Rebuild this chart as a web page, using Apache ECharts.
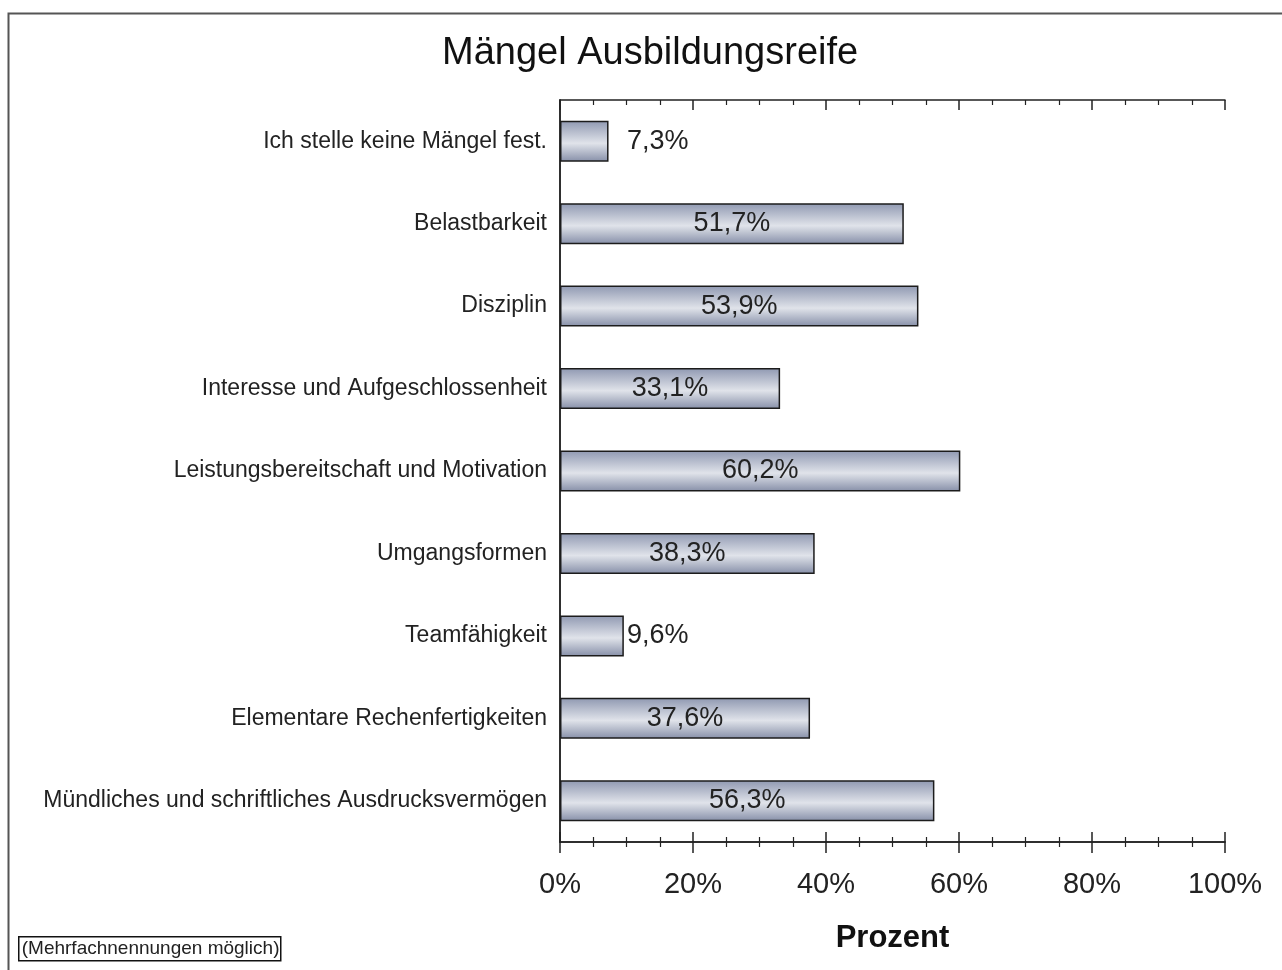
<!DOCTYPE html>
<html>
<head>
<meta charset="utf-8">
<script src="https://cdn.jsdelivr.net/npm/echarts@6/dist/echarts.min.js"></script>
<style>html,body{margin:0;padding:0;background:#fff}#c{width:1282px;height:970px}</style>
</head>
<body>
<div id="c"></div>
<script>
var titleText = 'Mängel Ausbildungsreife';
var categories = [
  'Ich stelle keine Mängel fest.',
  'Belastbarkeit',
  'Disziplin',
  'Interesse und Aufgeschlossenheit',
  'Leistungsbereitschaft und Motivation',
  'Umgangsformen',
  'Teamfähigkeit',
  'Elementare Rechenfertigkeiten',
  'Mündliches und schriftliches Ausdrucksvermögen'
];
var values = [7.3, 51.7, 53.9, 33.1, 60.2, 38.3, 9.6, 37.6, 56.3];
var xTicks = [0, 20, 40, 60, 80, 100];
var axisName = 'Prozent';
var noteText = '(Mehrfachnennungen möglich)';

var FONT = '"Liberation Sans", Arial, sans-serif';
var chart = echarts.init(document.getElementById('c'), null, {renderer: 'canvas'});

var barColor = new echarts.graphic.LinearGradient(0, 0, 0, 1, [
  {offset: 0, color: '#8f98b1'},
  {offset: 0.55, color: '#e0e3ea'},
  {offset: 1, color: '#868fa8'}
]);

var data = values.map(function (v) {
  var item = {value: v};
  if (v < 15) {
    item.label = {position: 'insideLeft', distance: 67};
  }
  return item;
});

function fmt(v) { return v.toFixed(1).replace('.', ',') + '%'; }

var xMin = xTicks[0], xMax = xTicks[xTicks.length - 1], xInt = xTicks[1] - xTicks[0];

var baseX = {
  type: 'value', min: xMin, max: xMax, interval: xInt,
  splitLine: {show: false},
  axisLine: {show: true, lineStyle: {color: '#222', width: 1.5}}
};

var option = {
  backgroundColor: '#fff',
  animation: false,
  title: {
    text: titleText, left: 442, top: 35, padding: 0,
    textStyle: {fontFamily: FONT, fontSize: 38, fontWeight: 'normal', color: '#111'}
  },
  grid: {left: 560, right: 57, top: 100, bottom: 128, containLabel: false},
  xAxis: [
    Object.assign({}, baseX, {
      position: 'bottom',
      axisTick: {show: true, inside: false, length: 11, lineStyle: {color: '#222', width: 1.5}},
      minorTick: {show: true, splitNumber: 4, length: 5, lineStyle: {color: '#222', width: 1.2}},
      axisLabel: {
        show: true, margin: 28, fontFamily: FONT, fontSize: 29, color: '#222',
        formatter: function (v) { return v + '%'; }
      },
      name: axisName, nameLocation: 'middle', nameGap: 81,
      nameTextStyle: {fontFamily: FONT, fontSize: 31, fontWeight: 'bold', color: '#111'}
    }),
    Object.assign({}, baseX, {
      position: 'bottom',
      axisTick: {show: true, inside: true, length: 10, lineStyle: {color: '#222', width: 1.5}},
      minorTick: {show: true, splitNumber: 4, length: 5, lineStyle: {color: '#222', width: 1.2}},
      axisLabel: {show: false}
    }),
    Object.assign({}, baseX, {
      position: 'top',
      axisTick: {show: true, inside: true, length: 10, lineStyle: {color: '#222', width: 1.5}},
      minorTick: {show: true, splitNumber: 4, length: 5, lineStyle: {color: '#222', width: 1.2}},
      axisLabel: {show: false}
    })
  ],
  yAxis: [
    {
      type: 'category', data: categories, inverse: true, position: 'left',
      axisLine: {show: true, lineStyle: {color: '#222', width: 1.5}},
      axisTick: {show: false},
      axisLabel: {margin: 13, fontFamily: FONT, fontSize: 23, color: '#222'},
      splitLine: {show: false}
    },
    {
      type: 'category', data: categories, inverse: true, position: 'right',
      axisLine: {show: true, lineStyle: {color: '#222', width: 1.5}},
      axisTick: {show: false}, axisLabel: {show: false}, splitLine: {show: false}
    }
  ],
  series: [{
    type: 'bar', xAxisIndex: 0, yAxisIndex: 0,
    data: data, barWidth: 41,
    itemStyle: {color: barColor, borderColor: '#1c1c1c', borderWidth: 1.5},
    label: {
      show: true, position: 'inside', fontFamily: FONT, fontSize: 27, color: '#222',
      formatter: function (p) { return fmt(p.value); }
    }
  }],
  graphic: [
    {
      type: 'rect', left: 6, top: 11, silent: true,
      shape: {x: 0, y: 0, width: 1400, height: 1100},
      style: {fill: 'none', stroke: '#555', lineWidth: 2}
    },
    {
      type: 'group', left: 18, top: 936,
      children: [
        {type: 'rect', shape: {x: 0, y: 0, width: 262, height: 24},
         style: {fill: '#fff', stroke: '#111', lineWidth: 1.5}},
        {type: 'text', x: 3, y: 12,
         style: {text: noteText, font: '19px ' + FONT, fill: '#222', textVerticalAlign: 'middle'}}
      ]
    }
  ]
};
chart.setOption(option);
</script>
</body>
</html>
